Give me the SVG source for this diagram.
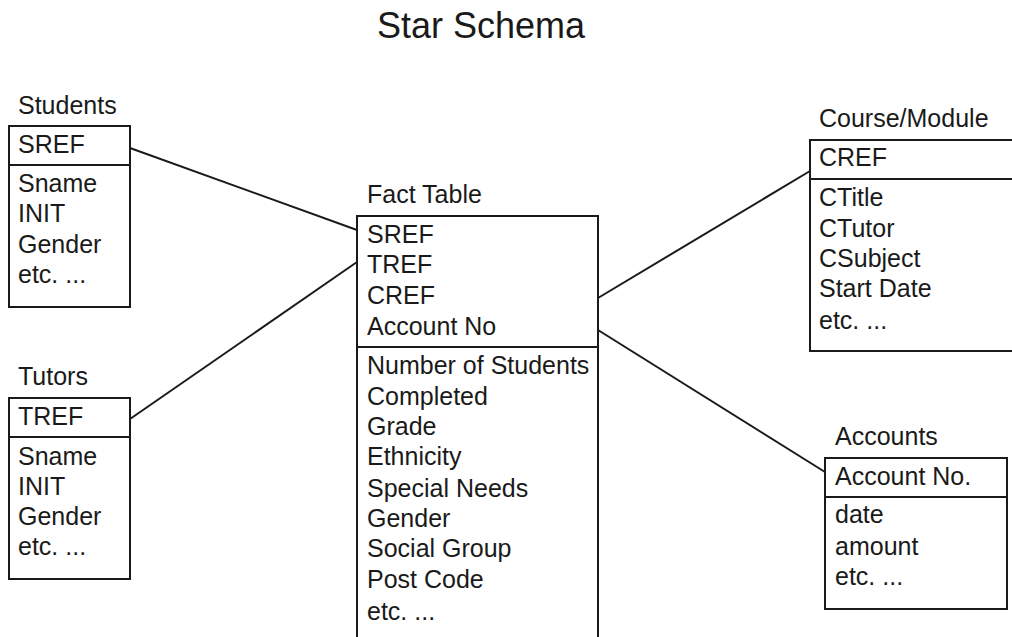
<svg xmlns="http://www.w3.org/2000/svg" width="1012" height="637" viewBox="0 0 1012 637">
  <style>
    text { font-family: "Liberation Sans", Arial, sans-serif; font-size: 25px; fill: #1a1a1a; }
    .title { font-size: 36px; }
    .box { fill: #fff; stroke: #1a1a1a; stroke-width: 2; }
    .div { stroke: #1a1a1a; stroke-width: 2; }
    .link { stroke: #1a1a1a; stroke-width: 2; fill: none; }
  </style>
  <rect width="1012" height="637" fill="#fff"/>

  <text class="title" x="481" y="38" text-anchor="middle">Star Schema</text>

  <!-- relationships between the fact table and its dimensions -->
  <g id="connectors">
    <line class="link" x1="130" y1="148" x2="357" y2="230"/>
    <line class="link" x1="130" y1="419" x2="357" y2="262"/>
    <line class="link" x1="598" y1="298" x2="810" y2="171"/>
    <line class="link" x1="598" y1="330" x2="825" y2="472"/>
  </g>

  <g id="students">
    <text x="18" y="114">Students</text>
    <rect class="box" x="9" y="126" width="121" height="181"/>
    <line class="div" x1="9" y1="165" x2="130" y2="165"/>
    <text x="18" y="153">SREF</text>
    <text x="18" y="192">Sname</text>
    <text x="18" y="222">INIT</text>
    <text x="18" y="253">Gender</text>
    <text x="18" y="283">etc. ...</text>
  </g>

  <g id="tutors">
    <text x="18" y="385">Tutors</text>
    <rect class="box" x="9" y="398" width="121" height="181"/>
    <line class="div" x1="9" y1="437" x2="130" y2="437"/>
    <text x="18" y="425">TREF</text>
    <text x="18" y="465">Sname</text>
    <text x="18" y="495">INIT</text>
    <text x="18" y="525">Gender</text>
    <text x="18" y="555">etc. ...</text>
  </g>

  <g id="fact-table">
    <text x="367" y="203">Fact Table</text>
    <rect class="box" x="357" y="216" width="241" height="440"/>
    <line class="div" x1="357" y1="347" x2="598" y2="347"/>
    <text x="367" y="243">SREF</text>
    <text x="367" y="273">TREF</text>
    <text x="367" y="304">CREF</text>
    <text x="367" y="335">Account No</text>
    <text x="367" y="374">Number of Students</text>
    <text x="367" y="405">Completed</text>
    <text x="367" y="435">Grade</text>
    <text x="367" y="465">Ethnicity</text>
    <text x="367" y="497">Special Needs</text>
    <text x="367" y="527">Gender</text>
    <text x="367" y="557">Social Group</text>
    <text x="367" y="588">Post Code</text>
    <text x="367" y="620">etc. ...</text>
  </g>

  <g id="course-module">
    <text x="819" y="127">Course/Module</text>
    <rect class="box" x="810" y="140" width="220" height="211"/>
    <line class="div" x1="810" y1="179" x2="1030" y2="179"/>
    <text x="819" y="166">CREF</text>
    <text x="819" y="206">CTitle</text>
    <text x="819" y="237">CTutor</text>
    <text x="819" y="267">CSubject</text>
    <text x="819" y="297">Start Date</text>
    <text x="819" y="329">etc. ...</text>
  </g>

  <g id="accounts">
    <text x="835" y="445">Accounts</text>
    <rect class="box" x="825" y="458" width="182" height="151"/>
    <line class="div" x1="825" y1="497" x2="1007" y2="497"/>
    <text x="835" y="485">Account No.</text>
    <text x="835" y="523">date</text>
    <text x="835" y="555">amount</text>
    <text x="835" y="585">etc. ...</text>
  </g>
</svg>
